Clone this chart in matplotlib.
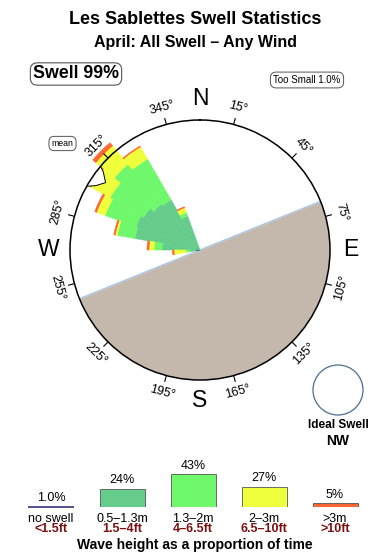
import numpy as np
import matplotlib
matplotlib.use('Agg')
import matplotlib.pyplot as plt
from matplotlib.patches import Circle

plt.rcParams['font.family'] = ['Liberation Sans', 'DejaVu Sans']

W, H = 390, 560

# %%
# rose data: direction bins (deg) and outer radius of each wave-height band
directions = [265, 275, 285, 295, 305, 315, 325, 335]
r_noswell = [4, 4, 0, 0, 0, 0, 0, 0]
r_small = [10, 38, 66, 68, 65, 60, 58, 36]      # 0.5-1.3m
r_mid = [14, 46, 84, 101, 104, 112, 105, 40]    # 1.3-2m
r_big = [26, 51, 86, 110, 126, 136, 119, 45]    # 2-3m
r_huge = [27.5, 53, 87.5, 112, 127, 140, 120, 46]  # >3m
r_max = 130

land_from, land_to = 68, 248
mean_dir = 305.5
tick_angles = [15, 45, 75, 105, 135, 165, 195, 225, 255, 285, 315, 345]

# legend data
legend_pct = [1.0, 24, 43, 27, 5]
legend_pct_txt = ['1.0%', '24%', '43%', '27%', '5%']
legend_m = ['no swell', '0.5\u20131.3m', '1.3\u20132m', '2\u20133m', '>3m']
legend_ft = ['<1.5ft', '1.5\u20134ft', '4\u20136.5ft', '6.5\u201310ft', '>10ft']
legend_x = [51, 122, 193, 264, 335]

c_noswell = '#33337A'
c_small = '#66CC8C'
c_mid = '#70F86C'
c_big = '#F0FF3C'
c_huge = '#FF6633'
c_land = '#C4B8AC'
c_ft = '#7A1010'

fig = plt.figure(figsize=(W / 100, H / 100), dpi=100)

# %%
# overlay in pixel coords for the layout text
ov = fig.add_axes([0, 0, 1, 1])
ov.set_xlim(0, W)
ov.set_ylim(H, 0)
ov.axis('off')

ov.text(195, 19, 'Les Sablettes Swell Statistics', ha='center', va='center',
        fontsize=13, fontweight='bold')
ov.text(195, 43, 'April: All Swell \u2013 Any Wind', ha='center', va='center',
        fontsize=11.5, fontweight='bold')
ov.text(76, 74, 'Swell 99%', ha='center', va='center', fontsize=12.8, fontweight='bold',
        bbox=dict(boxstyle='round,pad=0.15,rounding_size=0.4', fc='white', ec='#555555', lw=0.8))
ov.text(307, 80, 'Too Small 1.0%', ha='center', va='center', fontsize=7,
        bbox=dict(boxstyle='round,pad=0.3,rounding_size=0.6', fc='white', ec='#555555', lw=0.7))
ov.text(62.5, 143.5, 'mean', ha='center', va='center', fontsize=6.3,
        bbox=dict(boxstyle='round,pad=0.3,rounding_size=0.6', fc='white', ec='#555555', lw=0.7))

ov.add_patch(Circle((338, 390), 25, fc='white', ec='#4A6F90', lw=0.9))
ov.text(338, 425, 'Ideal Swell', ha='center', va='center', fontsize=8.5, fontweight='bold')
ov.text(338, 441, 'NW', ha='center', va='center', fontsize=10, fontweight='bold')

for x, m, ft in zip(legend_x, legend_m, legend_ft):
    ov.text(x, 518.5, m, ha='center', va='center', fontsize=9)
    ov.text(x, 529.5, ft, ha='center', va='center', fontsize=9, fontweight='bold', color=c_ft)
ov.text(195, 545, 'Wave height as a proportion of time', ha='center', va='center',
        fontsize=10, fontweight='bold')

# %%
# the rose
ax = fig.add_axes([70 / W, (H - 380) / H, 260 / W, 260 / H], projection='polar')
ax.set_theta_zero_location('N')
ax.set_theta_direction(-1)
ax.set_ylim(0, r_max)
ax.set_xticks([])
ax.set_yticks([])
ax.grid(False)
ax.spines['polar'].set_linewidth(1.1)

th = np.radians(np.linspace(land_from, land_to, 200))
ax.fill_between(th, 0, r_max, color=c_land, lw=0, zorder=0.5)
for a in (land_from, land_to):
    ax.plot(np.radians([a, a]), [r_max, 0], color='#A8C4E0', lw=1, zorder=0.6)

theta = np.radians(directions)
prev = np.zeros(len(directions))
for r, c in [(r_noswell, '#3344BB'), (r_small, c_small), (r_mid, c_mid),
             (r_big, c_big), (r_huge, c_huge)]:
    r = np.array(r, dtype=float)
    h = np.clip(r - prev, 0, None)
    keep = h > 0
    bars = ax.bar(theta[keep], h[keep], width=np.radians(10), bottom=prev[keep],
                  color=c, edgecolor=c, lw=0.4, zorder=2)
    for b in bars:
        b.set_clip_on(False)
    prev = np.maximum(prev, r)

# mean direction notch
mt = np.radians(mean_dir + np.array([4.5, 3.5, 0, -3.8, -6]))
mr = np.array([129.5, 124.5, 116, 122.5, 129.5])
ax.fill(np.append(mt, mt[0]), np.append(mr, mr[0]), color='white', lw=0, zorder=2.2)
ax.plot(mt, mr, color='black', lw=0.7, zorder=2.3)

for t in tick_angles:
    ax.plot(np.radians([t, t]), [r_max, r_max + 6], color='black', lw=0.8, clip_on=False)
    rot = -t % 360
    if 90 < rot < 270:
        rot -= 180
    ax.text(np.radians(t), 147, f'{t}\u00b0', rotation=rot, rotation_mode='anchor',
            ha='center', va='center', fontsize=9)

for a, lbl in zip([0, 90, 180, 270], ['N', 'E', 'S', 'W']):
    ax.text(np.radians(a), 151, lbl, ha='center', va='center', fontsize=16.5)

# %%
# legend bars
px_per_pct = 0.77
lg = fig.add_axes([0, (H - 507.3) / H, 1, 70 / H])
lg.set_xlim(0, W)
lg.set_ylim(0, 70 / px_per_pct)
lg.axis('off')
lg.bar(legend_x[0], legend_pct[0], width=46, color=c_noswell, edgecolor=c_noswell,
       lw=1.2, clip_on=False)
lg.bar(legend_x[1:], legend_pct[1:], width=45,
       color=[c_small, c_mid, c_big, c_huge], edgecolor='#555555', lw=0.6)
for x, p, s in zip(legend_x, legend_pct, legend_pct_txt):
    lg.annotate(s, (x, p), xytext=(0, 6), textcoords='offset points',
                ha='center', va='center', fontsize=9)

fig.savefig('out.png', dpi=100)
